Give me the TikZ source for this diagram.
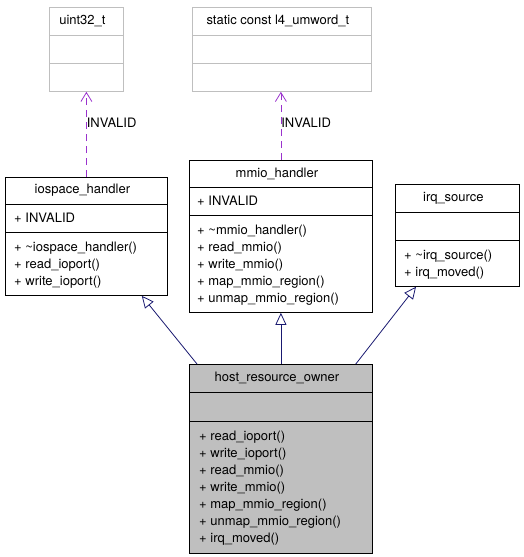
\documentclass[tikz,border=0pt]{standalone}
\usepackage{fontspec}
\setmainfont{TeX Gyre Heros}
\usetikzlibrary{arrows.meta}
\definecolor{boxgray}{HTML}{BFBFBF}
\definecolor{ownergray}{HTML}{BFBFBF}
\definecolor{usepurple}{HTML}{9A32CD}
\definecolor{inhblue}{HTML}{191970}

\begin{document}
\begin{tikzpicture}[x=1pt,y=-1pt,
		font=\fontsize{13}{15}\selectfont,
		classbox/.style={draw,line width=0.8pt,anchor=north west,inner sep=0pt},
		extbox/.style={classbox,draw=boxgray},
		title/.style={inner sep=0pt,xshift=-4pt},
		member/.style={anchor=base west,inner sep=0pt},
		usage/.style={->,>={Straight Barb[length=9pt,width=11pt]},usepurple,line width=0.8pt,dash pattern=on 7pt off 5pt},
		uselabel/.style={anchor=west,inner sep=0pt,text=black},
		inherit/.style={-{Triangle[open,length=12pt,width=11pt]},inhblue,line width=0.8pt}]
		\useasboundingbox (0,0) rectangle (523,557);
		% external types
		\node[extbox,minimum width=74pt,minimum height=84pt] (uint) at (49,7) {};
		\draw[boxgray,line width=0.8pt] (uint.north west) ++(0,28) -- ++(74,0) ++(-74,28) -- ++(74,0);
		\node[title] (uint-t) at ([yshift=-14pt]uint.north) {uint32\_t};
		\node[extbox,minimum width=179pt,minimum height=84pt] (word) at (192,7) {};
		\draw[boxgray,line width=0.8pt] (word.north west) ++(0,28) -- ++(179,0) ++(-179,28) -- ++(179,0);
		\node[title] (word-t) at ([yshift=-14pt]word.north) {static const l4\_umword\_t};
		%
		% base classes
		\node[classbox,minimum width=162pt,minimum height=118pt] (iospace) at (5,177) {};
		\draw[line width=0.8pt] (iospace.north west) ++(0,27) -- ++(162,0) ++(-162,28) -- ++(162,0);
		\node[title] (iospace-t) at ([yshift=-13.5pt]iospace.north) {iospace\_handler};
		\node[member] (iospace-a) at (14,222.5) {+ INVALID};
		\foreach \m [count=\i from 0] in {+ \textasciitilde iospace\_handler(),+ read\_ioport(),+ write\_ioport()}
			\node[member] (iospace-m\i) at (14,{251+17*\i}) {\m};
		%
		\node[classbox,minimum width=183pt,minimum height=152pt] (mmio) at (189,160) {};
		\draw[line width=0.8pt] (mmio.north west) ++(0,27) -- ++(183,0) ++(-183,28) -- ++(183,0);
		\node[title] (mmio-t) at ([yshift=-13.5pt]mmio.north) {mmio\_handler};
		\node[member] (mmio-a) at (197,205.5) {+ INVALID};
		\foreach \m [count=\i from 0] in {+ \textasciitilde mmio\_handler(),+ read\_mmio(),+ write\_mmio(),+ map\_mmio\_region(),+ unmap\_mmio\_region()}
			\node[member] (mmio-m\i) at (197,{234+17*\i}) {\m};
		%
		\node[classbox,minimum width=124pt,minimum height=102pt] (irq) at (395,184) {};
		\draw[line width=0.8pt] (irq.north west) ++(0,28) -- ++(124,0) ++(-124,28) -- ++(124,0);
		\node[title] (irq-t) at ([yshift=-14pt]irq.north) {irq\_source};
		\foreach \m [count=\i from 0] in {+ \textasciitilde irq\_source(),+ irq\_moved()}
			\node[member] (irq-m\i) at (404,{259+17*\i}) {\m};
		%
		% the derived class
		\node[classbox,fill=ownergray,minimum width=183pt,minimum height=189pt] (host) at (189,364) {};
		\draw[line width=0.8pt] (host.north west) ++(0,28) -- ++(183,0) ++(-183,29) -- ++(183,0);
		\node[title] (host-t) at ([yshift=-14pt]host.north) {host\_resource\_owner};
		\foreach \m [count=\i from 0] in {+ read\_ioport(),+ write\_ioport(),+ read\_mmio(),+ write\_mmio(),+ map\_mmio\_region(),+ unmap\_mmio\_region(),+ irq\_moved()}
			\node[member] (host-m\i) at (199,{440+17*\i}) {\m};
		%
		\draw[usage] (iospace.north) -- node[pos=0.64,uselabel]{INVALID} (uint.south);
		\draw[usage] (mmio.north) -- node[pos=0.55,uselabel]{INVALID} (mmio.north |- word.south);
		\draw[inherit] ([xshift=8pt]host.north west) -- ([xshift=-26pt]iospace.south east);
		\draw[inherit] (host.north) -- (mmio.south);
		\draw[inherit] ([xshift=-17pt]host.north east) -- ([xshift=21pt]irq.south west);
		\end{tikzpicture}
\end{document}
